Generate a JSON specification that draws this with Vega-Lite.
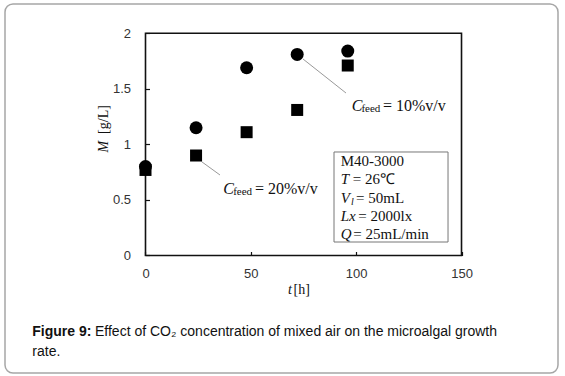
{
  "$schema": "https://vega.github.io/schema/vega-lite/v6.json",
  "width": 553,
  "height": 369,
  "autosize": "none",
  "padding": {"left": 5, "top": 4, "right": 7, "bottom": 3},
  "background": "white",
  "config": {
    "view": {"stroke": "#a6a6a6", "strokeWidth": 1.5, "cornerRadius": 8},
    "text": {"font": "Liberation Serif", "fontSize": 15, "fill": "#111", "baseline": "middle", "align": "left"}
  },
  "datasets": {
    "growth": [
      {"t": 0, "M": 0.77, "Cfeed": "20%v/v"},
      {"t": 24, "M": 0.9, "Cfeed": "20%v/v"},
      {"t": 48, "M": 1.11, "Cfeed": "20%v/v"},
      {"t": 72, "M": 1.31, "Cfeed": "20%v/v"},
      {"t": 96, "M": 1.71, "Cfeed": "20%v/v"},
      {"t": 0, "M": 0.8, "Cfeed": "10%v/v"},
      {"t": 24, "M": 1.15, "Cfeed": "10%v/v"},
      {"t": 48, "M": 1.69, "Cfeed": "10%v/v"},
      {"t": 72, "M": 1.81, "Cfeed": "10%v/v"},
      {"t": 96, "M": 1.84, "Cfeed": "10%v/v"}
    ],
    "one": [{}]
  },
  "data": {"name": "one"},
  "layer": [
    {
      "mark": {"type": "rect", "fill": "transparent", "stroke": "#111", "strokeWidth": 1.6},
      "encoding": {
        "x": {"datum": 0, "type": "quantitative",
          "scale": {"domain": [-66.69, 195.8], "nice": false, "zero": false},
          "axis": {"values": [0, 50, 100, 150], "format": "d", "offset": -117.5, "domain": false, "grid": false,
            "tickSize": -4, "tickColor": "#111", "tickWidth": 1.2, "labelPadding": 16, "labelFont": "Liberation Sans",
            "labelFontSize": 13, "labelColor": "#333", "title": null, "labelFlush": false}},
        "x2": {"datum": 150},
        "y": {"datum": 0, "type": "quantitative",
          "scale": {"domain": [-1.0576, 2.2637], "nice": false, "zero": false},
          "axis": {"values": [0, 0.5, 1, 1.5, 2], "format": "~g", "offset": -140.5, "domain": false, "grid": false,
            "tickSize": -4, "tickColor": "#111", "tickWidth": 1.2, "labelPadding": 19, "labelFont": "Liberation Sans",
            "labelFontSize": 13, "labelColor": "#333", "title": null, "labelFlush": false}},
        "y2": {"datum": 2}
      }
    },
    {
      "mark": {"type": "rect", "fill": "white", "stroke": "#777", "strokeWidth": 1},
      "encoding": {
        "x": {"datum": 89.48, "type": "quantitative"},
        "x2": {"datum": 143.6},
        "y": {"datum": 0.1215, "type": "quantitative"},
        "y2": {"datum": 0.9316}
      }
    },
    {
      "mark": {"type": "rule", "stroke": "#999", "strokeWidth": 1},
      "encoding": {
        "x": {"datum": 74.76, "type": "quantitative"},
        "y": {"datum": 1.7687, "type": "quantitative"},
        "x2": {"datum": 95.17},
        "y2": {"datum": 1.4626}
      }
    },
    {
      "mark": {"type": "rule", "stroke": "#999", "strokeWidth": 1},
      "encoding": {
        "x": {"datum": 26.68, "type": "quantitative"},
        "y": {"datum": 0.844, "type": "quantitative"},
        "x2": {"datum": 35.36},
        "y2": {"datum": 0.7246}
      }
    },
    {
      "data": {"name": "growth"},
      "mark": {"type": "point", "filled": true, "color": "black", "opacity": 1},
      "encoding": {
        "x": {"field": "t", "type": "quantitative"},
        "y": {"field": "M", "type": "quantitative"},
        "shape": {"field": "Cfeed", "type": "nominal", "scale": {"domain": ["20%v/v", "10%v/v"], "range": ["square", "circle"]}, "legend": null},
        "size": {"field": "Cfeed", "type": "nominal", "scale": {"domain": ["20%v/v", "10%v/v"], "range": [144, 169]}, "legend": null}
      }
    },
    {"mark": {"type": "text", "text": "M40-3000"},
     "encoding": {"x": {"datum": 92.66, "type": "quantitative"}, "y": {"datum": 0.8506, "type": "quantitative"}}},
    {"mark": {"type": "text", "text": "T", "fontStyle": "italic"},
     "encoding": {"x": {"datum": 92.66, "type": "quantitative"}, "y": {"datum": 0.6859, "type": "quantitative"}}},
    {"mark": {"type": "text", "text": "= 26℃"},
     "encoding": {"x": {"datum": 98.36, "type": "quantitative"}, "y": {"datum": 0.6859, "type": "quantitative"}}},
    {"mark": {"type": "text", "text": "V", "fontStyle": "italic"},
     "encoding": {"x": {"datum": 92.66, "type": "quantitative"}, "y": {"datum": 0.5212, "type": "quantitative"}}},
    {"mark": {"type": "text", "text": "l", "fontStyle": "italic", "fontSize": 10},
     "encoding": {"x": {"datum": 97.55, "type": "quantitative"}, "y": {"datum": 0.4851, "type": "quantitative"}}},
    {"mark": {"type": "text", "text": "= 50mL"},
     "encoding": {"x": {"datum": 99.92, "type": "quantitative"}, "y": {"datum": 0.5212, "type": "quantitative"}}},
    {"mark": {"type": "text", "text": "Lx", "fontStyle": "italic"},
     "encoding": {"x": {"datum": 92.66, "type": "quantitative"}, "y": {"datum": 0.3564, "type": "quantitative"}}},
    {"mark": {"type": "text", "text": "= 2000lx"},
     "encoding": {"x": {"datum": 101.0, "type": "quantitative"}, "y": {"datum": 0.3564, "type": "quantitative"}}},
    {"mark": {"type": "text", "text": "Q", "fontStyle": "italic"},
     "encoding": {"x": {"datum": 92.66, "type": "quantitative"}, "y": {"datum": 0.1917, "type": "quantitative"}}},
    {"mark": {"type": "text", "text": "= 25mL/min"},
     "encoding": {"x": {"datum": 98.64, "type": "quantitative"}, "y": {"datum": 0.1917, "type": "quantitative"}}},
    {"mark": {"type": "text", "text": "C", "fontStyle": "italic", "fontSize": 16},
     "encoding": {"x": {"datum": 97.88, "type": "quantitative"}, "y": {"datum": 1.3456, "type": "quantitative"}}},
    {"mark": {"type": "text", "text": "feed", "fontSize": 11},
     "encoding": {"x": {"datum": 102.5, "type": "quantitative"}, "y": {"datum": 1.3186, "type": "quantitative"}}},
    {"mark": {"type": "text", "text": "= 10%v/v", "fontSize": 16},
     "encoding": {"x": {"datum": 112.7, "type": "quantitative"}, "y": {"datum": 1.3456, "type": "quantitative"}}},
    {"mark": {"type": "text", "text": "C", "fontStyle": "italic", "fontSize": 16},
     "encoding": {"x": {"datum": 36.93, "type": "quantitative"}, "y": {"datum": 0.5986, "type": "quantitative"}}},
    {"mark": {"type": "text", "text": "feed", "fontSize": 11},
     "encoding": {"x": {"datum": 41.6, "type": "quantitative"}, "y": {"datum": 0.5716, "type": "quantitative"}}},
    {"mark": {"type": "text", "text": "= 20%v/v", "fontSize": 16},
     "encoding": {"x": {"datum": 51.98, "type": "quantitative"}, "y": {"datum": 0.5986, "type": "quantitative"}}},
    {"mark": {"type": "text", "text": "t", "fontStyle": "italic", "fontSize": 14},
     "encoding": {"x": {"datum": 67.64, "type": "quantitative"}, "y": {"datum": -0.3105, "type": "quantitative"}}},
    {"mark": {"type": "text", "text": "[h]", "fontSize": 14},
     "encoding": {"x": {"datum": 70.3, "type": "quantitative"}, "y": {"datum": -0.3105, "type": "quantitative"}}},
    {"mark": {"type": "text", "text": "M", "fontStyle": "italic", "fontSize": 14, "angle": 270, "align": "center"},
     "encoding": {"x": {"datum": -19.7, "type": "quantitative"}, "y": {"datum": 0.9793, "type": "quantitative"}}},
    {"mark": {"type": "text", "text": "[g/L]", "fontSize": 14, "angle": 270, "align": "center"},
     "encoding": {"x": {"datum": -19.7, "type": "quantitative"}, "y": {"datum": 1.224, "type": "quantitative"}}},
    {"mark": {"type": "text", "text": "Figure 9:", "font": "Liberation Sans", "fontWeight": "bold", "fontSize": 14, "fill": "#111"},
     "encoding": {"x": {"datum": -53.73, "type": "quantitative"}, "y": {"datum": -0.6913, "type": "quantitative"}}},
    {"mark": {"type": "text", "text": "Effect of CO₂ concentration of mixed air on the microalgal growth", "font": "Liberation Sans", "fontSize": 14, "fill": "#111"},
     "encoding": {"x": {"datum": -23.97, "type": "quantitative"}, "y": {"datum": -0.6913, "type": "quantitative"}}},
    {"mark": {"type": "text", "text": "rate.", "font": "Liberation Sans", "fontSize": 14, "fill": "#111"},
     "encoding": {"x": {"datum": -53.73, "type": "quantitative"}, "y": {"datum": -0.8659, "type": "quantitative"}}}
  ]
}
